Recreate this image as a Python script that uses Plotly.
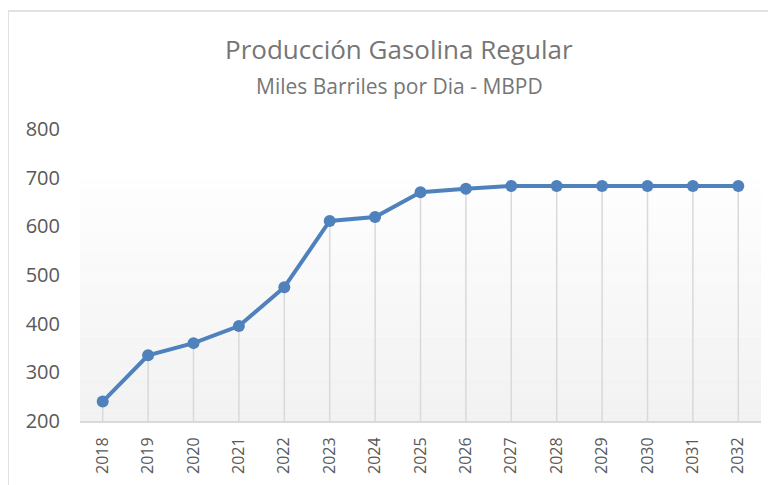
import plotly.graph_objects as go

years = [str(y) for y in range(2018, 2033)]
values = [240, 335, 360, 395, 475, 611, 619, 670, 677, 683, 683, 683, 683, 683, 683]
y_ticks = [200, 300, 400, 500, 600, 700, 800]
title = "Producción Gasolina Regular"
subtitle = "Miles Barriles por Dia - MBPD"

Y_MIN, Y_MAX = 200, 800

fig = go.Figure()

# gradient background bands (decoration)
n = 24
top_val = 720
for i in range(n):
    y0 = Y_MIN + (top_val - Y_MIN) * i / n
    y1 = Y_MIN + (top_val - Y_MIN) * (i + 1) / n
    t = i / (n - 1)
    c = int(242 + (255 - 242) * t)
    fig.add_shape(type="rect", xref="paper", yref="y", x0=0, x1=1, y0=y0, y1=y1,
                  fillcolor=f"rgb({c},{c},{c})", line=dict(width=0), layer="below")

# drop lines
dx, dy = [], []
for yr, v in zip(years, values):
    dx += [yr, yr, None]
    dy += [Y_MIN, v, None]
fig.add_trace(go.Scatter(x=dx, y=dy, mode="lines", line=dict(color="#d9d9d9", width=1.5),
                         hoverinfo="skip", showlegend=False))

fig.add_trace(go.Scatter(x=years, y=values, mode="lines+markers",
                         line=dict(color="#4f81bd", width=4),
                         marker=dict(color="#4f81bd", size=12),
                         showlegend=False))

# chart border
fig.add_shape(type="rect", xref="paper", yref="paper",
              x0=(8 - 80) / 681, x1=1.5, y0=-1, y1=(421 - 11) / 292,
              line=dict(color="#d9d9d9", width=1.5), fillcolor="rgba(0,0,0,0)", layer="below")

fig.add_annotation(text=title, xref="paper", yref="paper",
                   x=(399 - 80) / 681, y=(421 - 49) / 292, xanchor="center", yanchor="middle",
                   showarrow=False, font=dict(size=26, color="#767676"))
fig.add_annotation(text=subtitle, xref="paper", yref="paper",
                   x=(399 - 80) / 681, y=(421 - 86) / 292, xanchor="center", yanchor="middle",
                   showarrow=False, font=dict(size=21, color="#767676"))

fig.update_layout(
    width=776, height=485,
    margin=dict(l=72, r=23, t=121, b=72),
    paper_bgcolor="white", plot_bgcolor="white",
    font=dict(family="Open Sans", color="#595959"),
    xaxis=dict(type="category", range=[-0.5, len(years) - 0.5], tickangle=-90,
               showgrid=False, showline=True, linecolor="#d9d9d9", linewidth=2,
               ticks="", tickfont=dict(size=16, color="#595959"), ticklabelstandoff=8),
    yaxis=dict(range=[Y_MIN, Y_MAX], tickvals=y_ticks, showgrid=False, zeroline=False,
               showline=False, ticks="", tickfont=dict(size=20, color="#595959"),
               ticklabelstandoff=19),
)

fig.write_html("out.html")
